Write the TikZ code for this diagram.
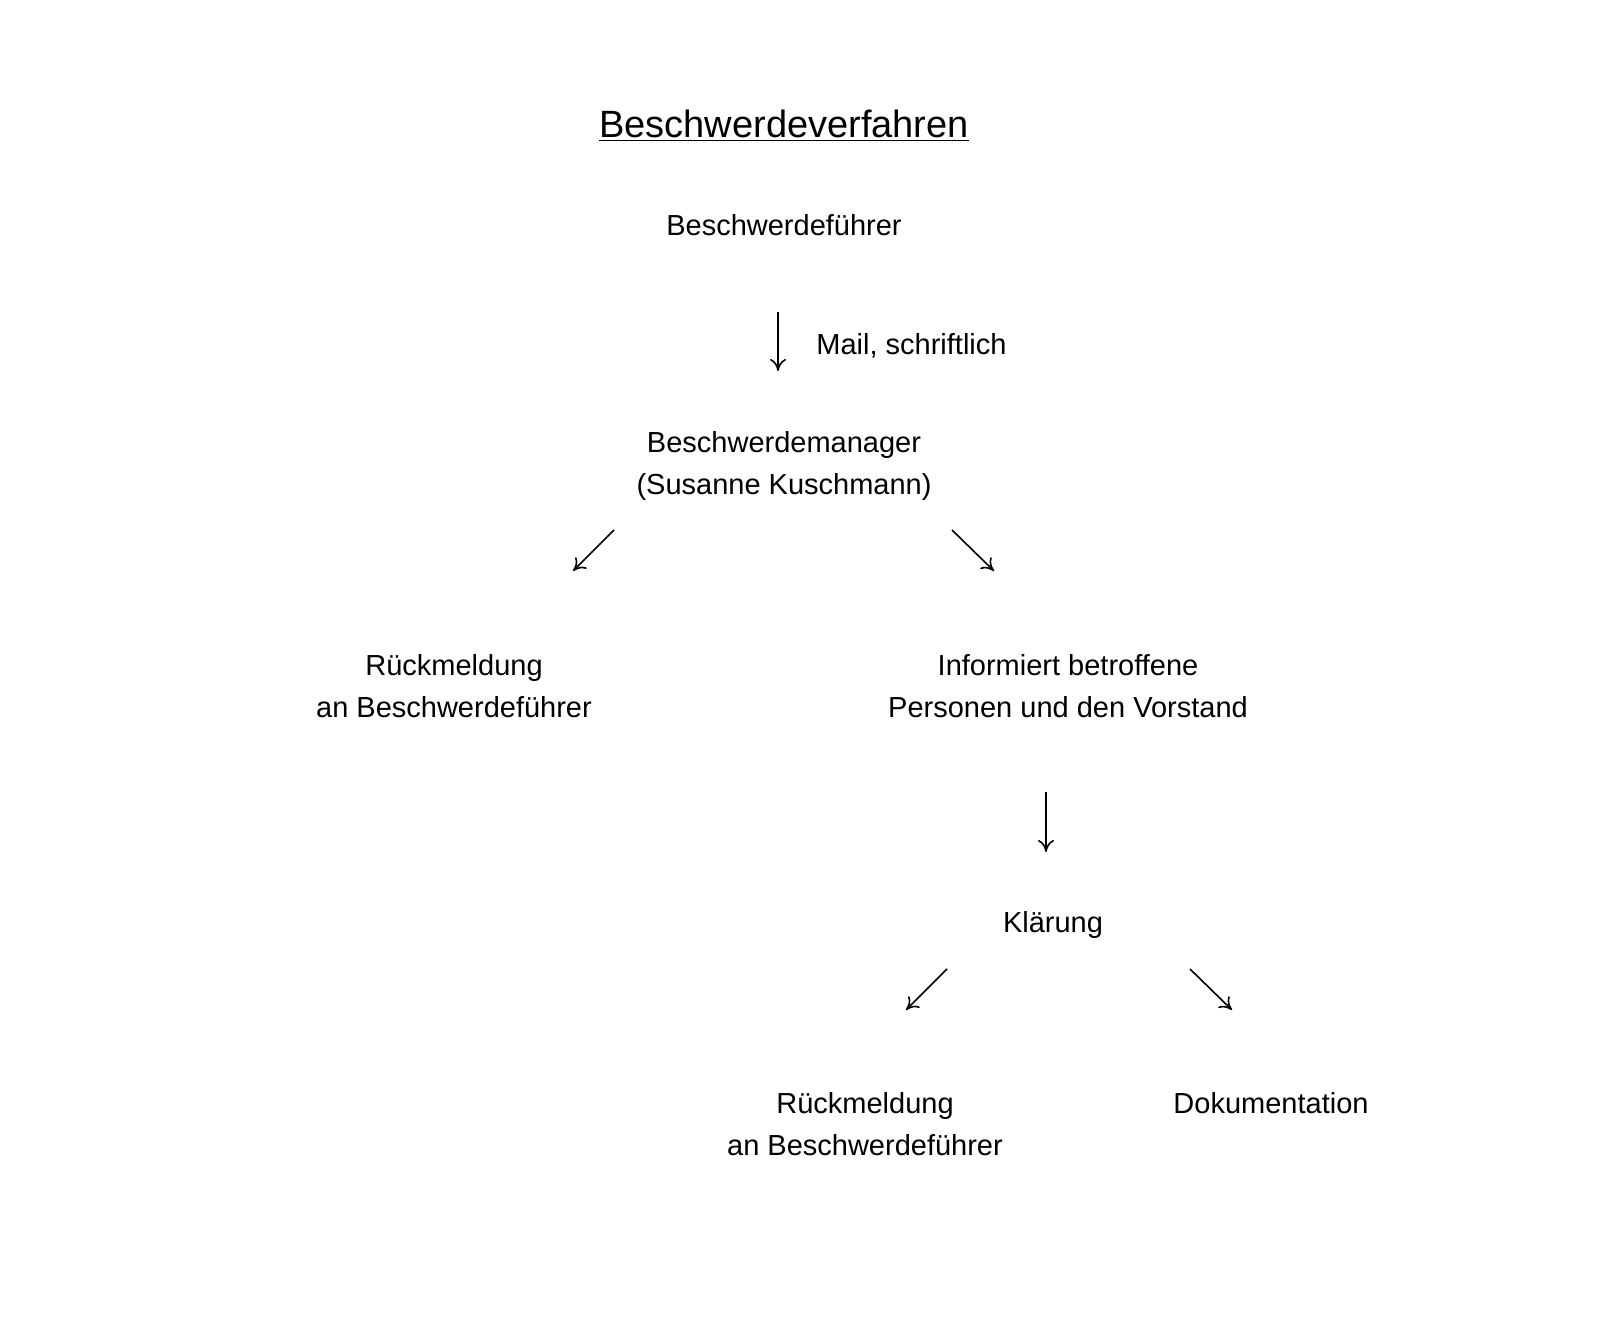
\documentclass[tikz,border=0pt]{standalone}
\usepackage{fontspec}
\setmainfont{Liberation Sans}
\usetikzlibrary{arrows.meta}
\begin{document}
\begin{tikzpicture}[x=0.5pt,y=-0.5pt,
  lbl/.style={font=\fontsize{14.5}{21}\selectfont,align=center,inner sep=0pt},
  arr/.style={-{To[length=6pt,width=8pt]},line width=0.8pt}]
\useasboundingbox (0,0) rectangle (1600,1320);
\node[inner sep=0pt,font=\fontsize{19}{23}\selectfont] (title) at (784,126) {\underline{Beschwerdeverfahren}};
\node[lbl] (bf) at (784,225) {Beschwerdeführer};
\coordinate (a1s) at (778,312); \coordinate (a1e) at (778,371);
\draw[arr] (a1s) -- (a1e);
\node[lbl,anchor=west] (mail) at (816,346) {Mail, schriftlich};
\node[lbl] (bm) at (784,466) {Beschwerdemanager\\(Susanne Kuschmann)};
\coordinate (a2s) at (614,530); \coordinate (a2e) at (573,571);
\coordinate (a3s) at (952,530); \coordinate (a3e) at (994,571);
\draw[arr] (a2s) -- (a2e);
\draw[arr] (a3s) -- (a3e);
\node[lbl] (r1) at (454,686) {Rückmeldung\\an Beschwerdeführer};
\node[lbl] (inf) at (1068,686) {Informiert betroffene\\Personen und den Vorstand};
\coordinate (a4s) at (1046,792); \coordinate (a4e) at (1046,852);
\draw[arr] (a4s) -- (a4e);
\node[lbl] (kl) at (1053,925) {Klärung};
\coordinate (a5s) at (947,969); \coordinate (a5e) at (906,1010);
\coordinate (a6s) at (1190,969); \coordinate (a6e) at (1232,1010);
\draw[arr] (a5s) -- (a5e);
\draw[arr] (a6s) -- (a6e);
\node[lbl] (r2) at (865,1124) {Rückmeldung\\an Beschwerdeführer};
\node[lbl] (dok) at (1271,1103) {Dokumentation};
\end{tikzpicture}
\end{document}
